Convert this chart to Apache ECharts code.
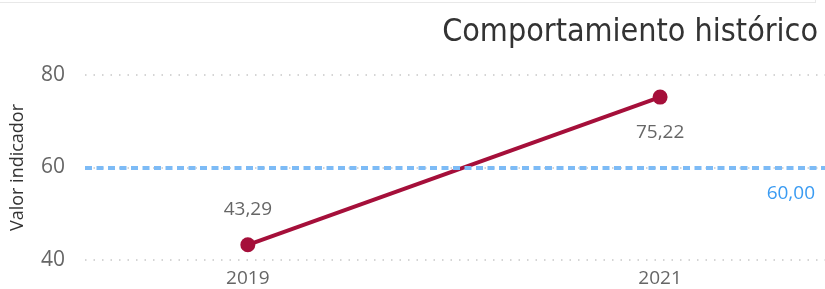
<!DOCTYPE html>
<html>
<head>
<meta charset="utf-8">
<script src="https://cdn.jsdelivr.net/npm/echarts@6/dist/echarts.min.js"></script>
<style>
  html, body { margin: 0; padding: 0; background: #fff; }
  #frame { position: absolute; left: 0; top: 0; width: 815px; height: 2px; border-bottom: 1px solid #e8e8e8; border-right: 1px solid #e8e8e8; }
  #main { width: 825px; height: 289px; }
</style>
</head>
<body>
<div id="frame"></div>
<div id="main"></div>
<script>
// datos del gráfico
var years = [2019, 2021]
var valores = [43.29, 75.22]
var meta = 60
var yTicks = [40, 60, 80]

function fmt (v) {
  return v.toFixed(2).replace('.', ',')
}

var mychart = echarts.init(document.getElementById('main'))
var option = {
  backgroundColor: 'transparent',
  title: {
    text: 'Comportamiento histórico',
    right: 2,
    top: 12,
    textStyle: {
      fontFamily: 'DejaVu Sans Condensed',
      fontWeight: 'normal',
      fontSize: 32,
      color: '#333'
    }
  },
  grid: { left: 85, right: 0, top: 75, bottom: 29 },
  xAxis: {
    type: 'value',
    min: 2018.21,
    max: 2021.8,
    axisLine: { show: false },
    axisTick: { show: false },
    splitLine: { show: false },
    axisLabel: {
      customValues: years,
      formatter: function (v) { return String(v) },
      color: '#666',
      fontFamily: 'Open Sans',
      fontSize: 19,
      margin: 9
    }
  },
  yAxis: {
    type: 'value',
    min: 40,
    max: 80,
    interval: 20,
    name: 'Valor indicador',
    nameLocation: 'middle',
    nameGap: 58,
    nameTextStyle: { color: '#333', fontFamily: 'Open Sans', fontSize: 18 },
    axisLine: { show: false },
    axisTick: { show: false },
    axisLabel: {
      color: '#666',
      fontFamily: 'Open Sans',
      fontSize: 21,
      margin: 20,
      formatter: function (v) { return yTicks.indexOf(v) >= 0 ? String(v) : '' }
    },
    splitLine: {
      lineStyle: { color: '#c8c8c8', type: [1.5, 7], width: 1.5 }
    }
  },
  series: [
    {
      name: 'Valor indicador',
      type: 'line',
      data: years.map(function (y, i) { return [y, valores[i]] }),
      symbol: 'circle',
      symbolSize: 15,
      lineStyle: { color: '#A50F3A', width: 4 },
      itemStyle: { color: '#A50F3A' },
      label: {
        show: true,
        color: '#666',
        fontFamily: 'Open Sans',
        fontSize: 19,
        formatter: function (p) { return fmt(p.value[1]) }
      },
      labelLayout: function (p) {
        return p.dataIndex === 0 ? { dy: -13 } : { dy: 57 }
      },
      markLine: {
        silent: true,
        symbol: 'none',
        lineStyle: { color: '#7DBBF6', type: [7, 4.5], width: 4 },
        label: {
          show: true,
          position: 'insideEndBottom',
          color: '#3A9BF2',
          fontFamily: 'Open Sans',
          fontSize: 19,
          distance: [10, 17],
          formatter: function () { return fmt(meta) }
        },
        data: [{ yAxis: meta }]
      }
    }
  ]
}
mychart.setOption(option)
</script>
</body>
</html>
